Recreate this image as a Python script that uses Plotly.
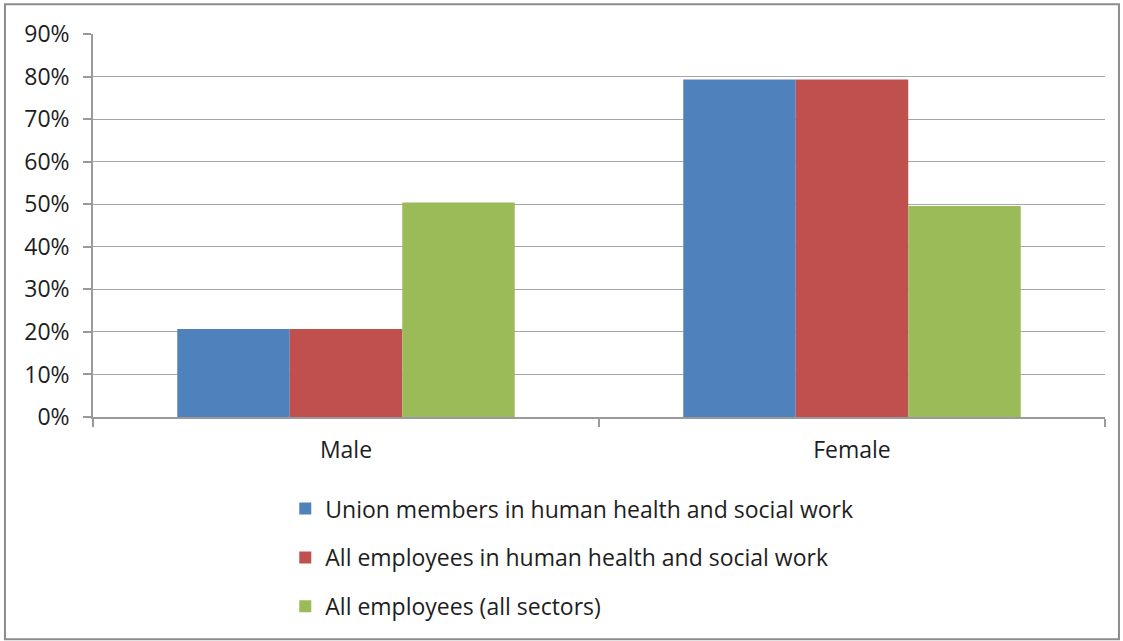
import plotly.graph_objects as go

categories = ["Male", "Female"]
series_names = [
    "Union members in human health and social work",
    "All employees in human health and social work",
    "All employees (all sectors)",
]
union_health = [20.7, 79.3]
all_health = [20.7, 79.3]
all_sectors = [50.4, 49.6]
colors = ["#4F81BD", "#C0504D", "#9BBB59"]

FONT = "Open Sans"

fig = go.Figure()
for i, (name, vals) in enumerate(zip(series_names, [union_health, all_health, all_sectors])):
    fig.add_trace(go.Bar(
        name=name, x=categories, y=vals,
        marker=dict(color=colors[i], line=dict(width=0)),
        legendgroup=str(i),
    ))

fig.update_layout(
    width=1123, height=641,
    margin=dict(l=93, r=18, t=34, b=224),
    barmode="group", bargap=0.333, bargroupgap=0,
    plot_bgcolor="white", paper_bgcolor="white",
    font=dict(family=FONT, size=23, color="#1E1E1E"),
    showlegend=True,
    legend=dict(
        x=0.19, y=-0.183, xanchor="left", yanchor="top",
        orientation="v", tracegroupgap=16,
        font=dict(family=FONT, size=23, color="#1E1E1E"),
        itemwidth=30,
    ),
    shapes=[dict(
        type="rect", xref="paper", yref="paper",
        x0=-0.087, x1=1.0138, y0=-0.5805, y1=1.0774,
        line=dict(color="#8C8C8C", width=2),
    )],
)

fig.update_xaxes(
    showline=True, linecolor="#9A9A9A", linewidth=1.5,
    ticks="outside", tickson="boundaries", ticklen=8, tickcolor="#9A9A9A",
    tickwidth=1.5, ticklabelstandoff=12, showgrid=False,
)
fig.update_yaxes(
    range=[0, 90], dtick=10, ticksuffix="%",
    showline=True, linecolor="#9A9A9A", linewidth=1.5,
    ticks="outside", ticklen=8, tickcolor="#9A9A9A", tickwidth=1.5,
    ticklabelstandoff=9,
    showgrid=True, gridcolor="#A6A6A6", gridwidth=1.3, zeroline=False,
)

# page body has a default margin; drop it so the chart sits at the window edge
fig.write_html(
    "out.html",
    config={"displayModeBar": False},
    post_script="document.body.style.margin='0';",
)
